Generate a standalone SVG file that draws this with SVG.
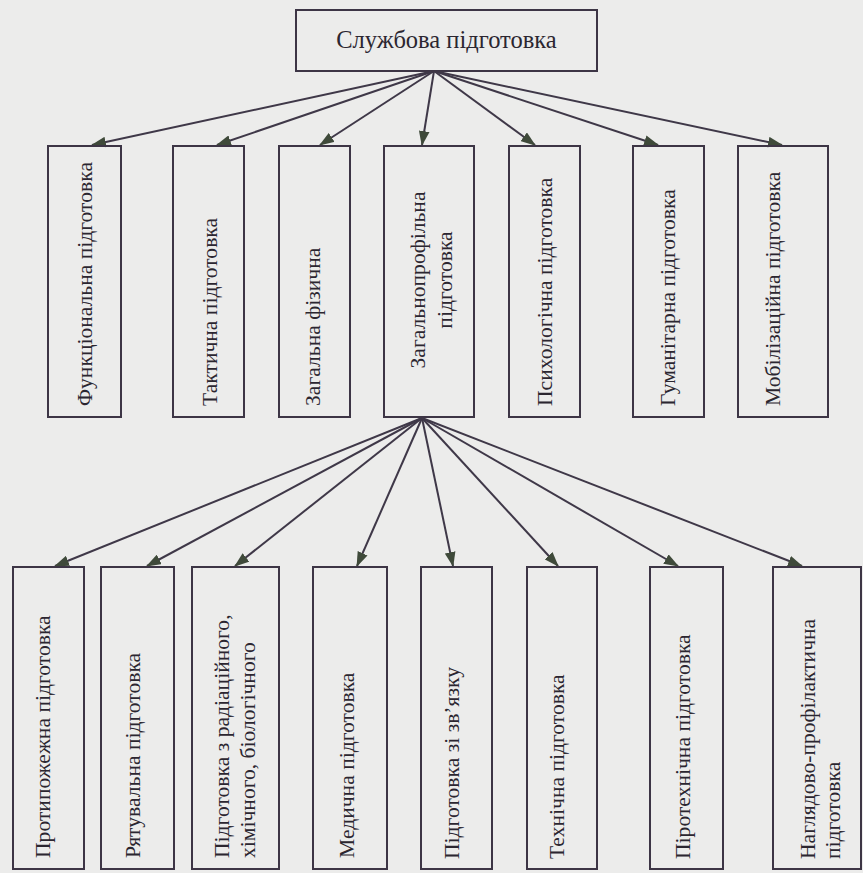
<svg xmlns="http://www.w3.org/2000/svg" width="863" height="873" viewBox="0 0 863 873">
<defs>
<style>
.box{fill:none;stroke:#3d3545;stroke-width:2}
.t{font-family:"Liberation Serif","Times New Roman",serif;font-size:21.6px;fill:#2b2630}
.v{text-anchor:start}
.c{stroke:#3f3848;stroke-width:2;fill:none;marker-end:url(#ah)}
</style>
<marker id="ah" viewBox="0 0 14 10" refX="13" refY="5" markerWidth="15" markerHeight="11" markerUnits="userSpaceOnUse" orient="auto">
<path d="M0,0 L14,5 L0,10 Z" fill="#3f4a3a"/>
</marker>
</defs>
<rect x="0" y="0" width="863" height="873" fill="#ececeb"/>
<g id="connectors">
<line class="c" x1="434" y1="71" x2="92" y2="145"/>
<line class="c" x1="434" y1="71" x2="217" y2="145"/>
<line class="c" x1="434" y1="71" x2="320" y2="145"/>
<line class="c" x1="434" y1="71" x2="422" y2="145"/>
<line class="c" x1="434" y1="71" x2="535" y2="145"/>
<line class="c" x1="434" y1="71" x2="658" y2="145"/>
<line class="c" x1="434" y1="71" x2="782" y2="145"/>
<line class="c" x1="422" y1="418" x2="55" y2="566"/>
<line class="c" x1="422" y1="418" x2="147" y2="566"/>
<line class="c" x1="422" y1="418" x2="235" y2="566"/>
<line class="c" x1="422" y1="418" x2="357" y2="566"/>
<line class="c" x1="422" y1="418" x2="453" y2="566"/>
<line class="c" x1="422" y1="418" x2="558" y2="566"/>
<line class="c" x1="422" y1="418" x2="678" y2="566"/>
<line class="c" x1="422" y1="418" x2="802" y2="566"/>
</g>
<g id="root">
<rect class="box" x="296" y="10" width="301" height="61"/>
<text class="t" x="446.5" y="48" text-anchor="middle" style="font-size:24.5px">Службова підготовка</text>
</g>
<g id="n1"><rect class="box" x="48" y="146" width="73" height="271"/>
<text class="t v" transform="translate(92,406) rotate(-90)">Функціональна підготовка</text></g>
<g id="n2"><rect class="box" x="173" y="146" width="71" height="271"/>
<text class="t v" transform="translate(217,406) rotate(-90)">Тактична підготовка</text></g>
<g id="n3"><rect class="box" x="279" y="146" width="71" height="271"/>
<text class="t v" transform="translate(320,406) rotate(-90)">Загальна фізична</text></g>
<g id="n4"><rect class="box" x="384" y="146" width="90" height="271"/>
<text class="t" text-anchor="middle" transform="translate(425,280) rotate(-90)">Загальнопрофільна</text>
<text class="t" text-anchor="middle" transform="translate(452,280) rotate(-90)">підготовка</text></g>
<g id="n5"><rect class="box" x="509" y="146" width="71" height="271"/>
<text class="t v" transform="translate(552,406) rotate(-90)">Психологічна підготовка</text></g>
<g id="n6"><rect class="box" x="633" y="146" width="71" height="271"/>
<text class="t v" transform="translate(675,406) rotate(-90)">Гуманітарна підготовка</text></g>
<g id="n7"><rect class="box" x="738" y="146" width="90" height="271"/>
<text class="t v" transform="translate(780,406) rotate(-90)">Мобілізаційна підготовка</text></g>
<g id="m1"><rect class="box" x="13" y="567" width="71" height="302"/>
<text class="t v" transform="translate(50,858) rotate(-90)">Протипожежна підготовка</text></g>
<g id="m2"><rect class="box" x="101" y="567" width="73" height="302"/>
<text class="t v" transform="translate(140,858) rotate(-90)">Рятувальна підготовка</text></g>
<g id="m3"><rect class="box" x="192" y="567" width="87" height="302"/>
<text class="t v" transform="translate(229,858) rotate(-90)">Підготовка з радіаційного,</text>
<text class="t v" transform="translate(255,858) rotate(-90)">хімічного, біологічного</text></g>
<g id="m4"><rect class="box" x="313" y="567" width="74" height="302"/>
<text class="t v" transform="translate(354,858) rotate(-90)">Медична підготовка</text></g>
<g id="m5"><rect class="box" x="421" y="567" width="71" height="302"/>
<text class="t v" transform="translate(459,859) rotate(-90)">Підготовка зі зв’язку</text></g>
<g id="m6"><rect class="box" x="527" y="567" width="70" height="302"/>
<text class="t v" transform="translate(564,859) rotate(-90)">Технічна підготовка</text></g>
<g id="m7"><rect class="box" x="650" y="567" width="73" height="302"/>
<text class="t v" transform="translate(690,859) rotate(-90)">Піротехнічна підготовка</text></g>
<g id="m8"><rect class="box" x="773" y="567" width="88" height="302"/>
<text class="t v" transform="translate(815,859) rotate(-90)">Наглядово-профілактична</text>
<text class="t v" transform="translate(840,859) rotate(-90)">підготовка</text></g>
</svg>
